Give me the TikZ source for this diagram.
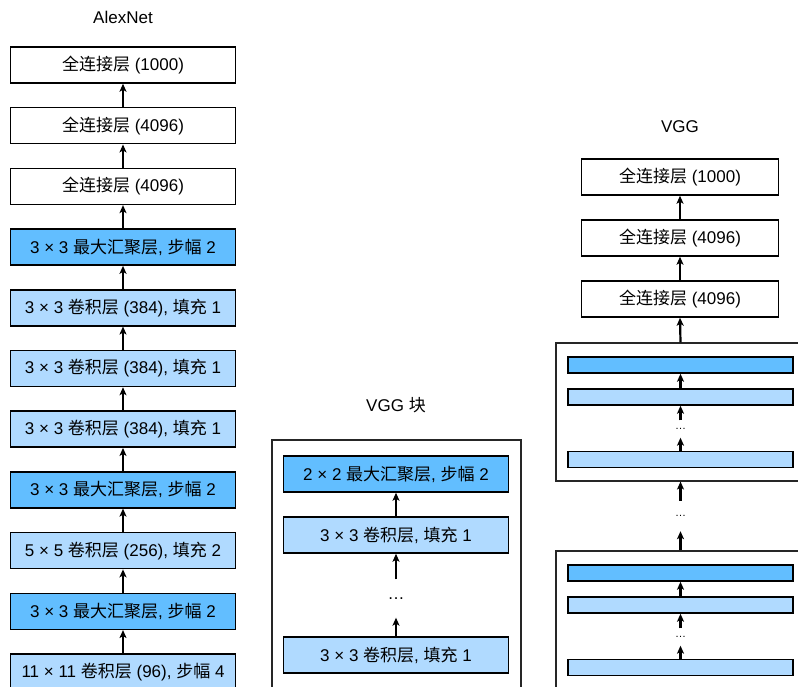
\documentclass[tikz,border=0pt]{standalone}
\usepackage{fontspec}
\setmainfont{Liberation Sans}
\newfontfamily\cjkfont{Noto Sans CJK SC}
\newcommand{\zh}[1]{{\cjkfont #1}}
\usetikzlibrary{arrows.meta}
\definecolor{poolblue}{HTML}{62BEFF}
\definecolor{convblue}{HTML}{B0DAFF}
\tikzset{
  layerbox/.style={draw=black, line width=1.5pt, minimum width=225pt, minimum height=36pt, inner sep=0pt, font=\fontsize{17}{20}\selectfont},
  fcbox/.style={layerbox, fill=white},
  poolbox/.style={layerbox, fill=poolblue},
  convbox/.style={layerbox, fill=convblue},
  bar/.style={draw=black, line width=1.5pt, minimum width=225pt, minimum height=16pt, inner sep=0pt},
  blockframe/.style={draw=black!85, line width=1.1pt},
  flow/.style={-{Stealth[length=8pt,width=7pt,inset=2pt]}, line width=2.2pt},
  title/.style={font=\fontsize{17}{20}\selectfont},
  dotsnode/.style={inner sep=0pt, font=\fontsize{17}{20}\selectfont}
}
\begin{document}
\begin{tikzpicture}[x=1pt, y=-1pt]
  \useasboundingbox (0,0) rectangle (798,687);
  % AlexNet
  \node[title] (alextitle) at (123,17) {AlexNet};
  \foreach \i/\sty/\txt in {
      1/fcbox/{\zh{全连接层} (1000)},
      2/fcbox/{\zh{全连接层} (4096)},
      3/fcbox/{\zh{全连接层} (4096)},
      4/poolbox/{3 × 3 \zh{最大汇聚层}, \zh{步幅} 2},
      5/convbox/{3 × 3 \zh{卷积层} (384), \zh{填充} 1},
      6/convbox/{3 × 3 \zh{卷积层} (384), \zh{填充} 1},
      7/convbox/{3 × 3 \zh{卷积层} (384), \zh{填充} 1},
      8/poolbox/{3 × 3 \zh{最大汇聚层}, \zh{步幅} 2},
      9/convbox/{5 × 5 \zh{卷积层} (256), \zh{填充} 2},
      10/poolbox/{3 × 3 \zh{最大汇聚层}, \zh{步幅} 2},
      11/convbox/{11 × 11 \zh{卷积层} (96), \zh{步幅} 4}}{
    \node[\sty] (a\i) at (123,{65+60.7*(\i-1)}) {\txt};
  }
  \foreach \i [evaluate=\i as \j using int(\i+1)] in {1,...,10}{
    \draw[flow] (a\j.north) -- (a\i.south);
  }
  % VGG block
  \node[title] (blocktitle) at (396,405) {VGG \zh{块}};
  \draw[blockframe] (272,700) -- (272,440) -- (521,440) -- (521,700);
  \node[poolbox] (b1) at (396,474) {2 × 2 \zh{最大汇聚层}, \zh{步幅} 2};
  \node[convbox] (b2) at (396,535) {3 × 3 \zh{卷积层}, \zh{填充} 1};
  \node[dotsnode, minimum height=38pt] (bdots) at (396,598.5) {\ldots};
  \node[convbox] (b3) at (396,655) {3 × 3 \zh{卷积层}, \zh{填充} 1};
  \draw[flow] (b2.north) -- (b1.south);
  \draw[flow] (bdots.north) -- (b2.south);
  \draw[flow] (b3.north) -- (bdots.south);
  % VGG
  \node[title] (vggtitle) at (680,127) {VGG};
  \node[fcbox, minimum width=197pt] (c1) at (680,177) {\zh{全连接层} (1000)};
  \node[fcbox, minimum width=197pt] (c2) at (680,238) {\zh{全连接层} (4096)};
  \node[fcbox, minimum width=197pt] (c3) at (680,299) {\zh{全连接层} (4096)};
  \draw[flow] (c2.north) -- (c1.south);
  \draw[flow] (c3.north) -- (c2.south);
  \foreach \k/\off in {1/0,2/208}{
    \node[blockframe, minimum width=249pt, minimum height=138pt] (g\k) at (680.5,412+\off) {};
    \node[bar, fill=poolblue] (r\k1) at (680.5,365+\off) {};
    \node[bar, fill=convblue] (r\k2) at (680.5,397+\off) {};
    \node[dotsnode, font=\fontsize{11}{12}\selectfont, minimum height=17pt] (d\k) at (680.5,429+\off) {\ldots};
    \node[bar, fill=convblue] (r\k3) at (680.5,459.5+\off) {};
    \draw[flow] (r\k2.north) -- (r\k1.south);
    \draw[flow] (d\k.north) -- (r\k2.south);
    \draw[flow] (r\k3.north) -- (d\k.south);
  }
  \draw[flow] (g1.north) -- (c3.south);
  \node[dotsnode, font=\fontsize{11}{12}\selectfont, minimum height=30pt] (gdots) at (680.5,516) {\ldots};
  \draw[flow] (gdots.north) -- (g1.south);
  \draw[flow] (g2.north) -- (gdots.south);
\end{tikzpicture}
\end{document}
